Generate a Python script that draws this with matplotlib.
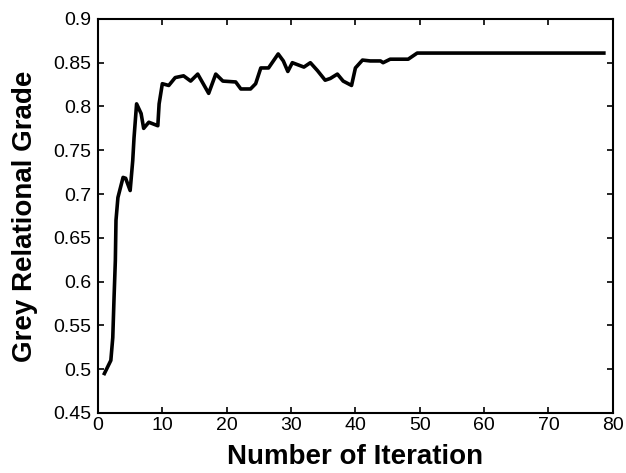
import matplotlib
matplotlib.use("Agg")
import matplotlib.pyplot as plt

iteration = [1.0, 2.0, 2.3, 2.5, 2.7, 2.8, 3.1, 3.9, 4.3, 5.0, 5.4, 5.6, 6.0, 6.7, 7.1, 7.9,
             9.3, 9.5, 10.0, 11.0, 12.0, 13.3, 14.4, 15.5, 17.2, 18.3, 19.4, 21.4, 22.2,
             23.7, 24.5, 25.3, 26.5, 28.0, 28.8, 29.5, 30.2, 32.0, 33.0, 34.1, 35.3, 36.1,
             37.2, 38.1, 39.4, 40.0, 41.1, 42.3, 43.9, 44.3, 45.4, 48.2, 49.6, 78.6]
grade = [0.495, 0.51, 0.536, 0.582, 0.624, 0.67, 0.696, 0.719, 0.718, 0.704, 0.738, 0.764,
         0.803, 0.792, 0.775, 0.782, 0.778, 0.803, 0.826, 0.824, 0.833, 0.835, 0.829, 0.837,
         0.815, 0.837, 0.829, 0.828, 0.82, 0.82, 0.826, 0.844, 0.844, 0.86, 0.852, 0.84,
         0.85, 0.845, 0.85, 0.841, 0.83, 0.832, 0.837, 0.829, 0.824, 0.844, 0.853, 0.852,
         0.852, 0.85, 0.854, 0.854, 0.861, 0.861]

xticks = [0, 10, 20, 30, 40, 50, 60, 70, 80]
yticks = [0.45, 0.5, 0.55, 0.6, 0.65, 0.7, 0.75, 0.8, 0.85, 0.9]
ytick_labels = ["0.45", "0.5", "0.55", "0.6", "0.65", "0.7", "0.75", "0.8", "0.85", "0.9"]

plt.rcParams['font.family'] = ['Liberation Sans', 'DejaVu Sans']
fig = plt.figure(figsize=(6.26, 4.73), dpi=100)
ax = fig.add_axes([0.1565, 0.127, 0.8225, 0.833])
ax.plot(iteration, grade, color='black', linewidth=2.6)
ax.set_xlim(0, 80)
ax.set_ylim(0.45, 0.9)
ax.set_xticks(xticks)
ax.set_yticks(yticks)
ax.set_yticklabels(ytick_labels)
ax.tick_params(direction='in', top=True, right=True, length=4, width=1.2, labelsize=14)
ax.tick_params(axis='x', pad=3)
ax.tick_params(axis='y', pad=5)
for s in ax.spines.values():
    s.set_linewidth(1.5)
ax.set_xlabel('Number of Iteration', fontsize=20, fontweight='bold', labelpad=7)
ax.set_ylabel('Grey Relational Grade', fontsize=20, fontweight='bold', labelpad=11)
fig.savefig('out.png', dpi=100)
